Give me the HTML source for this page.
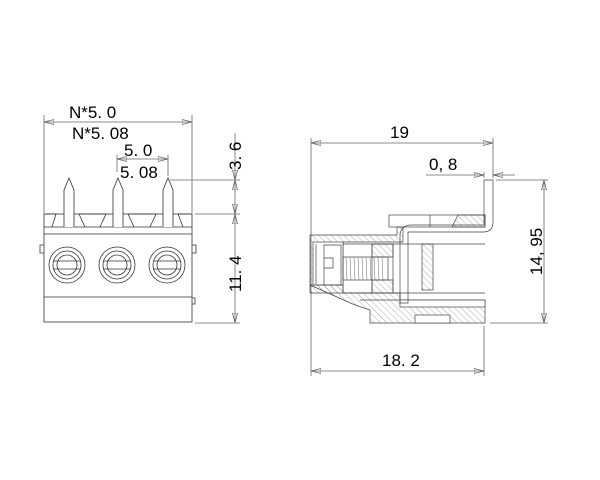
<!DOCTYPE html>
<html><head><meta charset="utf-8"><style>
html,body{margin:0;padding:0;background:#fff;}
svg{display:block;}
text{font-family:"Liberation Sans",sans-serif;font-size:17px;fill:#000;}
</style></head><body>
<svg width="600" height="480" viewBox="0 0 600 480" xmlns="http://www.w3.org/2000/svg">
<defs>
<pattern id="h" width="4.5" height="4.5" patternUnits="userSpaceOnUse" patternTransform="rotate(-45)">
<line x1="0" y1="0" x2="0" y2="4.5" stroke="#777" stroke-width="0.6"/>
</pattern>
<marker id="a" viewBox="0 0 10 6" refX="10" refY="3" markerWidth="10" markerHeight="6" orient="auto-start-reverse" markerUnits="userSpaceOnUse">
<path d="M0,0.5 L10,3 L0,5.5 Z" fill="none" stroke="#666" stroke-width="0.8"/>
</marker>
</defs>
<g stroke="#666" stroke-width="0.8" fill="none">
<line x1="44" y1="115" x2="44" y2="213"/>
<line x1="192" y1="115" x2="192" y2="213"/>
<line x1="44" y1="122" x2="192" y2="122" marker-start="url(#a)" marker-end="url(#a)"/>
<line x1="117" y1="155" x2="117" y2="172"/>
<line x1="168" y1="155" x2="168" y2="176"/>
<line x1="117" y1="159" x2="168" y2="159" marker-start="url(#a)" marker-end="url(#a)"/>
<line x1="170" y1="180" x2="240" y2="180"/>
<line x1="195" y1="214" x2="240" y2="214"/>
<line x1="195" y1="323" x2="240" y2="323"/>
<line x1="235" y1="133" x2="235" y2="180" marker-end="url(#a)"/>
<line x1="235" y1="180" x2="235" y2="214" marker-start="url(#a)" marker-end="url(#a)"/>
<line x1="235" y1="214" x2="235" y2="323" marker-start="url(#a)" marker-end="url(#a)"/>
</g>
<g stroke="#333" stroke-width="0.8" fill="none">
<rect x="44" y="214" width="148" height="108"/>
<line x1="44" y1="227" x2="192" y2="227"/>
<line x1="44" y1="234" x2="192" y2="234"/>
<line x1="44" y1="297" x2="192" y2="297"/>
<path d="M44,214 L56,214 L52,227"/>
<path d="M79,214 L106,214 L100,227 M79,214 L85,227"/>
<path d="M128,214 L156,214 L150,227 M128,214 L134,227"/>
<path d="M178,214 L192,214 M178,214 L183,227"/>
<path d="M64,227 L64,190 L69,178 L74,190 L74,227" fill="#fff"/>
<path d="M113,227 L113,190 L118,178 L123,190 L123,227" fill="#fff"/>
<path d="M163,227 L163,190 L168,178 L173,190 L173,227" fill="#fff"/>
<g>
<circle cx="67" cy="265" r="18"/><circle cx="67" cy="265" r="14"/><circle cx="67" cy="265" r="10"/>
<line x1="53" y1="261" x2="81" y2="261"/><line x1="53" y1="269" x2="81" y2="269"/>
<circle cx="117" cy="265" r="18"/><circle cx="117" cy="265" r="14"/><circle cx="117" cy="265" r="10"/>
<line x1="103" y1="261" x2="131" y2="261"/><line x1="103" y1="269" x2="131" y2="269"/>
<circle cx="167" cy="265" r="18"/><circle cx="167" cy="265" r="14"/><circle cx="167" cy="265" r="10"/>
<line x1="153" y1="261" x2="181" y2="261"/><line x1="153" y1="269" x2="181" y2="269"/>
</g>
<path d="M44,245 L40,245 L40,253 L44,253"/>
<path d="M192,245 L196,245 L196,253 L192,253"/>
<path d="M192,298 L195,298 L195,304 L192,304"/>
</g>
<text x="69" y="118">N*5. 0</text>
<text x="72" y="139">N*5. 08</text>
<text x="124" y="156">5. 0</text>
<text x="120" y="178">5. 08</text>
<text transform="translate(241,170) rotate(-90)">3. 6</text>
<text transform="translate(241,292) rotate(-90)">11. 4</text>

<g stroke="#666" stroke-width="0.8" fill="none">
<line x1="311" y1="138" x2="311" y2="376"/>
<line x1="493" y1="138" x2="493" y2="178"/>
<line x1="311" y1="143" x2="493" y2="143" marker-start="url(#a)" marker-end="url(#a)"/>
<line x1="426" y1="175" x2="484" y2="175" marker-end="url(#a)"/>
<line x1="493" y1="175" x2="515" y2="175" marker-start="url(#a)"/>
<line x1="484" y1="172" x2="484" y2="178"/>
<line x1="496" y1="180" x2="548" y2="180"/>
<line x1="490" y1="323" x2="548" y2="323"/>
<line x1="544" y1="180" x2="544" y2="323" marker-start="url(#a)" marker-end="url(#a)"/>
<line x1="484" y1="326" x2="484" y2="376"/>
<line x1="311" y1="371" x2="484" y2="371" marker-start="url(#a)" marker-end="url(#a)"/>
</g>
<text x="390" y="138">19</text>
<text x="429" y="170">0, 8</text>
<text transform="translate(542,275) rotate(-90)">14, 95</text>
<text x="382" y="366">18. 2</text>

<g stroke="#444" stroke-width="0.7">
<rect x="389" y="215" width="96" height="12" fill="none"/>
<path d="M458,215 L485,215 L485,227 L452,227 Z" fill="url(#h)"/>
<line x1="430" y1="215" x2="430" y2="227" fill="none"/>
<path d="M310,235 L397,235 L397,227 L403,227 L403,242 L343,242 L343,293 L310,293 Z" fill="url(#h)"/>
<rect x="313" y="242" width="30" height="43" fill="#fff"/>
<path d="M324,245 L341,245 L341,285 L324,285 Z M324,258 L333,258 L333,268 L324,268" fill="none"/>
<line x1="316" y1="244" x2="316" y2="284"/>
<path d="M310,285 L343,285 L343,293 L400,293 L400,300 L485,300 L485,323 L370,323 L370,310 L355,305 Z" fill="url(#h)"/>
<path d="M343,293 L400,293 L400,300 L360,300" fill="none"/>
<rect x="400" y="300" width="85" height="7" fill="#fff"/>
<rect x="415" y="315" width="35" height="8" fill="#fff"/>
<line x1="343" y1="244" x2="485" y2="244"/>
<line x1="343" y1="293" x2="485" y2="293"/>
<rect x="343" y="257" width="45" height="23" fill="none"/>
<g stroke-width="0.5" stroke="#666">
<line x1="346" y1="257" x2="347" y2="280"/><line x1="350" y1="257" x2="351" y2="280"/><line x1="354" y1="257" x2="355" y2="280"/><line x1="358" y1="257" x2="359" y2="280"/><line x1="362" y1="257" x2="363" y2="280"/><line x1="366" y1="257" x2="367" y2="280"/><line x1="370" y1="257" x2="371" y2="280"/><line x1="374" y1="257" x2="375" y2="280"/><line x1="378" y1="257" x2="379" y2="280"/><line x1="382" y1="257" x2="383" y2="280"/>
</g>
<path d="M372,244 L393,244 L393,257 L372,257 Z M372,280 L393,280 L393,293 L372,293 Z" fill="url(#h)"/>
<rect x="372" y="244" width="21" height="49" fill="none"/>
<rect x="422" y="244" width="11" height="46" fill="url(#h)"/>
<path d="M484,180 L493,180 L493,222 Q493,232 483,232 L408,232 L408,303 L400,303 L400,236 Q400,225 412,225 L484,225 Z" fill="none"/>
</g>
</svg>
</body></html>
